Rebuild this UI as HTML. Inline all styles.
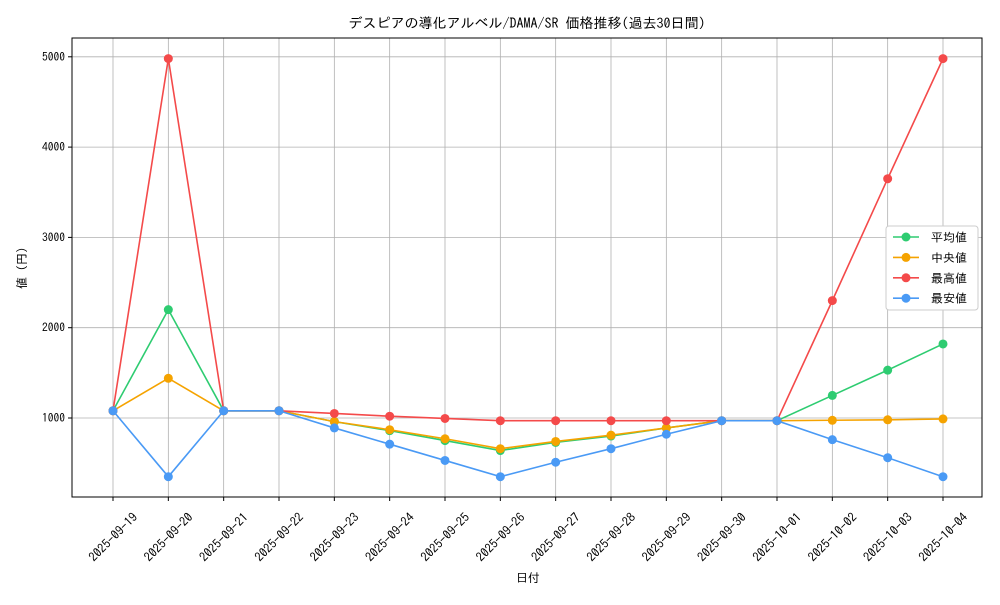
<!DOCTYPE html>
<html><head><meta charset="utf-8"><style>
body{margin:0;background:#fff;font-family:"Liberation Sans","IPAGothic","Noto Sans CJK JP",sans-serif}
svg text{font-family:"IPAGothic","Noto Sans CJK JP",sans-serif}
</style></head><body>
<svg id="c" width="1000" height="600"></svg>
<script>
const categories=["2025-09-19","2025-09-20","2025-09-21","2025-09-22","2025-09-23","2025-09-24","2025-09-25","2025-09-26","2025-09-27","2025-09-28","2025-09-29","2025-09-30","2025-10-01","2025-10-02","2025-10-03","2025-10-04"];
const avgValues=[1080,2200,1080,1080,960,860,750,640,730,800,890,970,970,1250,1530,1820];
const medianValues=[1080,1440,1080,1080,960,870,770,660,740,810,890,970,970,975,980,990];
const maxValues=[1080,4980,1080,1080,1050,1020,995,970,970,970,970,970,970,2300,3650,4980];
const minValues=[1080,350,1080,1080,890,710,530,350,510,660,820,970,970,760,560,350];
const yTicks=[1000,2000,3000,4000,5000];
const series=[["平均値",avgValues,"#2ecc71","avg"],["中央値",medianValues,"#f5a300","median"],["最高値",maxValues,"#f44a4a","max"],["最安値",minValues,"#4a9af5","min"]];
const L=72,R=982,T=38,B=497;
const x=i=>113+i*(943-113)/(categories.length-1);
const y=v=>508.3-v*0.0903;
const s=document.getElementById('c');
const NS="http://www.w3.org/2000/svg";
function mk(t,a,p){const e=document.createElementNS(NS,t);for(const k in a)e.setAttribute(k,a[k]);(p||s).appendChild(e);return e;}
categories.forEach((c,i)=>{
 const g=mk('line',{x1:x(i),x2:x(i),y1:T,y2:B,stroke:"#b0b0b0","stroke-width":0.8});
 
 mk('line',{x1:x(i),x2:x(i),y1:B,y2:B+4,stroke:"#000"});
 const cx=x(i),cy=B+40;
 const t=mk('text',{x:cx,y:cy+4.5,"font-size":12.5,"text-anchor":"middle",transform:`rotate(-45 ${cx} ${cy})`});
 t.textContent=c;
});
yTicks.forEach(v=>{
 const g=mk('line',{x1:L,x2:R,y1:y(v),y2:y(v),stroke:"#b0b0b0","stroke-width":0.8});
 
 mk('line',{x1:L-4,x2:L,y1:y(v),y2:y(v),stroke:"#000"});
 const t=mk('text',{x:L-7,y:y(v)+4,"font-size":11.5,"text-anchor":"end"});
 t.textContent=v;
});
const fr=mk('rect',{x:L,y:T,width:R-L,height:B-T,fill:"none",stroke:"#000","stroke-width":1});

series.forEach(([n,vals,col,key])=>{
 const p=mk('polyline',{points:vals.map((v,i)=>x(i)+","+y(v)).join(" "),fill:"none",stroke:col,"stroke-width":1.6});
 
 vals.forEach((v,i)=>{const c=mk('circle',{cx:x(i),cy:y(v),r:4.5,fill:col});
 });
});
const lg=mk('g',{});
mk('rect',{x:886,y:226,width:92,height:84,fill:"#fff",stroke:"#ccc",rx:3},lg);
series.forEach(([n,vals,col,key],k)=>{
 const yy=237+k*20.4;
 const e=mk('g',{},lg);
 mk('line',{x1:893,x2:919,y1:yy,y2:yy,stroke:col,"stroke-width":1.6},e);
 mk('circle',{cx:906,cy:yy,r:4.5,fill:col},e);
 const t=mk('text',{x:931,y:yy+4.5,"font-size":12},e);t.textContent=n;
});
let t=mk('text',{x:527,y:28,"font-size":14,"text-anchor":"middle"});t.textContent="デスピアの導化アルベル/DAMA/SR 価格推移(過去30日間)";

t=mk('text',{x:528,y:582,"font-size":12,"text-anchor":"middle"});t.textContent="日付";

t=mk('text',{x:26,y:268,"font-size":12,"text-anchor":"middle",transform:"rotate(-90 26 268)"});t.textContent="値 (円)";

</script>
</body></html>
